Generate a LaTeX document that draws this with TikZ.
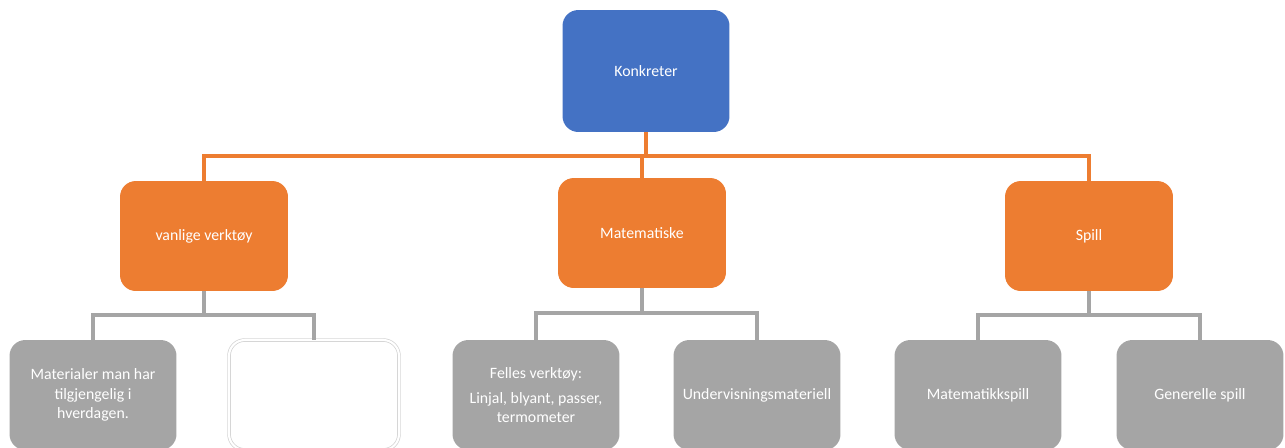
\documentclass[tikz,border=0pt]{standalone}
\usepackage{fontspec}
\setmainfont{Carlito}
\usepackage{xcolor}
\definecolor{konkblue}{HTML}{4472C4}
\definecolor{konkorange}{HTML}{ED7D31}
\definecolor{konkgray}{HTML}{A5A5A5}

\tikzset{
  boks/.style={rounded corners=9pt, text=white, align=center, inner sep=2pt,
    font=\fontsize{9}{11}\selectfont},
  toppboks/.style={boks, fill=konkblue, minimum width=3.34cm, minimum height=2.44cm},
  midtboks/.style={boks, fill=konkorange, minimum width=3.36cm, minimum height=2.2cm},
  bunnboks/.style={boks, fill=konkgray, minimum width=3.34cm, minimum height=2.2cm},
  tomboks/.style={rounded corners=9pt, fill=white, draw=black!18, double=white,
    double distance=1.2pt, minimum width=3.4cm, minimum height=2.2cm},
  oransjelinje/.style={draw=konkorange, line width=1.8pt},
  graalinje/.style={draw=konkgray, line width=1.8pt}
}

\begin{document}
\begin{tikzpicture}[x=0.02cm,y=-0.02cm]

\useasboundingbox (0,0) rectangle (1285,447);
\clip (0,0) rectangle (1285,447);

% top:
\node[toppboks] (konk) at (646,71) {Konkreter};

% 2nd tier:
\node[midtboks] (vanlige) at (204,236) {vanlige verktøy};
\node[midtboks] (matte) at (642,233) {Matematiske};
\node[midtboks] (spill) at (1089,236) {Spill};

\coordinate (busA) at (646,156);
\draw[oransjelinje] (konk.south) -- (busA);
\draw[oransjelinje] (busA) -| (vanlige.north);
\draw[oransjelinje] (busA) -| (spill.north);
\draw[oransjelinje] (busA) -| (matte.north);

% 3rd tier:
\node[bunnboks] (materialer) at (93,395) {Materialer man har\\ tilgjengelig i\\ hverdagen.};
\node[tomboks] (tom) at (314,395) {};

\node[bunnboks] (felles) at (536,395) {Felles verktøy:\\[3pt] Linjal, blyant, passer,\\ termometer};
\node[bunnboks] (underv) at (757,395) {Undervisningsmateriell};

\node[bunnboks] (mspill) at (978,395) {Matematikkspill};
\node[bunnboks] (gspill) at (1200,395) {Generelle spill};

\coordinate (busB) at (204,315);
\coordinate (busC) at (642,313);
\coordinate (busD) at (1089,315);

\draw[graalinje] (vanlige.south) -- (busB);
\draw[graalinje] (busB) -| (materialer.north);
\draw[graalinje] (busB) -| (tom.north);

\draw[graalinje] (matte.south) -- (busC);
\draw[graalinje] (busC) -| (felles.north);
\draw[graalinje] (busC) -| (underv.north);

\draw[graalinje] (spill.south) -- (busD);
\draw[graalinje] (busD) -| (mspill.north);
\draw[graalinje] (busD) -| (gspill.north);

\end{tikzpicture}
\end{document}
